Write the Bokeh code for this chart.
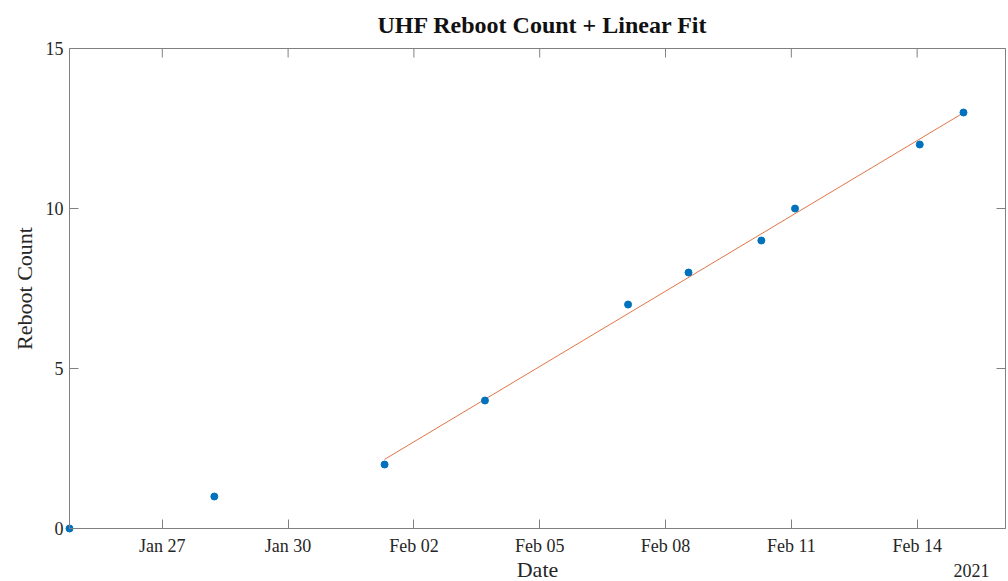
import numpy as np
import pandas as pd
from bokeh.plotting import figure
from bokeh.models import (Range1d, FixedTicker, DatetimeTickFormatter, Label, ColumnDataSource)
from bokeh.embed import file_html
from bokeh.resources import INLINE

# ---- data ----
reboot_dates = ["2021-01-24 18:54", "2021-01-28 05:47", "2021-02-01 07:13", "2021-02-03 16:40",
                "2021-02-07 02:34", "2021-02-08 13:10", "2021-02-10 06:50", "2021-02-11 02:07",
                "2021-02-14 01:30", "2021-02-15 02:31"]
reboot_counts = [0, 1, 2, 4, 7, 8, 9, 10, 12, 13]

fit_dates = ["2021-02-01 07:13", "2021-02-15 02:31"]
fit_counts = [2.16, 12.99]

x_tick_dates = ["2021-01-27", "2021-01-30", "2021-02-02", "2021-02-05",
                "2021-02-08", "2021-02-11", "2021-02-14"]
y_ticks = [0, 5, 10, 15]
x_limits = ["2021-01-24 18:54", "2021-02-16 02:34"]
y_limits = [0, 15]
year_label = "2021"

# ---- layout / styling ----
W, H = 1008, 581
BOX_L, BOX_R, BOX_T, BOX_B = 69, 1005, 48, 528   # axes box in page pixels
FRAME_T = 40                                     # plot frame starts just above the box
TITLE_LEFT = 377
FONT = "Liberation Serif"
AXIS_GRAY = "#808080"
TEXT = "#262626"
TICK_LEN = 9

def to_dt(lst):
    return pd.to_datetime(lst)

pts = ColumnDataSource(dict(date=to_dt(reboot_dates), count=reboot_counts))
fit = ColumnDataSource(dict(date=to_dt(fit_dates), count=fit_counts))
xlim = to_dt(x_limits)
xlim_ms = [t.value / 1e6 for t in xlim]
xticks = to_dt(x_tick_dates)
xticks_ms = [t.value / 1e6 for t in xticks]

# the frame covers the whole canvas below the title so that the axis texts and the
# corner marker are not clipped; the axes themselves sit on the box edges
ms_per_px = (xlim_ms[1] - xlim_ms[0]) / (BOX_R - BOX_L)
x_start = xlim_ms[0] - BOX_L * ms_per_px
x_end = xlim_ms[1] + (W - BOX_R) * ms_per_px
u_per_px = (y_limits[1] - y_limits[0]) / (BOX_B - BOX_T)
y_start = y_limits[0] - (H - BOX_B) * u_per_px
y_end = y_limits[1] + (BOX_T - FRAME_T) * u_per_px

p = figure(width=W, height=H, x_axis_type="datetime",
           x_range=Range1d(x_start, x_end), y_range=Range1d(y_start, y_end),
           output_backend="svg", toolbar_location=None,
           min_border_left=0, min_border_right=0, min_border_top=FRAME_T, min_border_bottom=0,
           background_fill_color="white", border_fill_color="white")

p.title.text = "UHF Reboot Count + Linear Fit"
p.title.align = "left"
p.title.offset = TITLE_LEFT
p.title.text_font = FONT
p.title.text_font_size = "24px"
p.title.text_font_style = "bold"
p.title.text_color = "#111111"
p.title.standoff = 6

p.xgrid.visible = False
p.ygrid.visible = False
p.outline_line_color = None

fmt = DatetimeTickFormatter(days="%b %d", months="%b %d", hours="%b %d", years="%b %d")

def style_axis(ax):
    ax.axis_line_color = AXIS_GRAY
    ax.major_tick_line_color = AXIS_GRAY
    ax.major_tick_in = TICK_LEN
    ax.major_tick_out = 0
    ax.minor_tick_line_color = None
    ax.major_label_text_font = FONT
    ax.major_label_text_font_size = "18px"
    ax.major_label_text_color = TEXT
    ax.axis_label_text_font = FONT
    ax.axis_label_text_font_size = "22px"
    ax.axis_label_text_font_style = "normal"
    ax.axis_label_text_color = TEXT

xa = p.xaxis[0]
xa.ticker = FixedTicker(ticks=xticks_ms)
xa.formatter = fmt
xa.axis_label = "Date"
xa.fixed_location = y_limits[0]
xa.bounds = (xlim_ms[0], xlim_ms[1])
style_axis(xa)
xa.major_label_standoff = 7
xa.axis_label_standoff = -2

ya = p.yaxis[0]
ya.ticker = FixedTicker(ticks=y_ticks)
ya.axis_label = "Reboot Count"
ya.fixed_location = xlim_ms[0]
ya.bounds = (y_limits[0], y_limits[1])
style_axis(ya)
ya.major_label_standoff = 6
ya.axis_label_standoff = 6

# top and right edges of the box, with mirrored ticks
p.segment(x0=[xlim[0], xlim[1]], y0=[y_limits[1], y_limits[0]],
          x1=[xlim[1], xlim[1]], y1=[y_limits[1], y_limits[1]],
          line_color=AXIS_GRAY, line_width=1)
p.ray(x=xticks, y=[y_limits[1]] * len(xticks), length=TICK_LEN, length_units="screen",
      angle=-np.pi / 2, line_color=AXIS_GRAY, line_width=1)
p.ray(x=[xlim[1]] * len(y_ticks), y=y_ticks, length=TICK_LEN, length_units="screen",
      angle=np.pi, line_color=AXIS_GRAY, line_width=1)

p.line("date", "count", source=fit, line_color="#D95319", line_width=1, line_alpha=0.8)
p.scatter("date", "count", source=pts, size=7, fill_color="#0072BD", line_color="#0072BD")

p.add_layout(Label(x=989, y=11, x_units="screen", y_units="screen", text=year_label,
                   text_font=FONT, text_font_size="18px", text_color=TEXT,
                   text_align="right", text_baseline="middle"))

open("out.html", "w").write(file_html(p, INLINE))
